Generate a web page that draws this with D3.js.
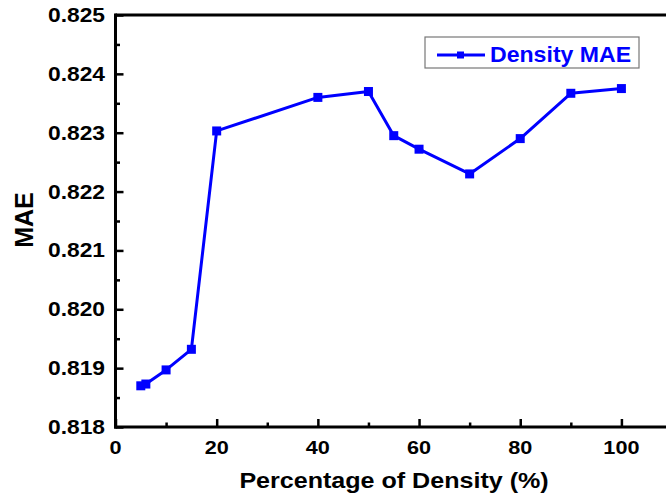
<!DOCTYPE html>
<html>
<head>
<meta charset="utf-8">
<script src="https://cdn.jsdelivr.net/npm/d3@7/dist/d3.min.js"></script>
<style>
  html, body { margin: 0; padding: 0; background: #fff; }
  svg { display: block; }
  text { font-family: "Liberation Sans", Arial, sans-serif; font-weight: bold; }
</style>
</head>
<body>
<svg id="chart" width="666" height="498"></svg>
<script>
// Density percentage vs. MAE
const densities = [5, 6, 10, 15, 20, 40, 50, 55, 60, 70, 80, 90, 100];
const maeValues = [0.81870, 0.81873, 0.81897, 0.81932, 0.82303, 0.82360, 0.82370,
                   0.82295, 0.82272, 0.82230, 0.82290, 0.82367, 0.82375];
const xTicks = [0, 20, 40, 60, 80, 100];
const xMinorTicks = [10, 30, 50, 70, 90];
const yTicks = [0.818, 0.819, 0.820, 0.821, 0.822, 0.823, 0.824, 0.825];
const yMinorTicks = [0.8185, 0.8195, 0.8205, 0.8215, 0.8225, 0.8235, 0.8245];
const seriesName = "Density MAE";
const xTitle = "Percentage of Density (%)";
const yTitle = "MAE";

const svg = d3.select("#chart");
const blue = "#0000ff";

const x = d3.scaleLinear().domain([0, 110]).range([115.5, 672]);
const y = d3.scaleLinear().domain([0.818, 0.825]).range([427, 15]);

// horizontally stretched text placed at an anchor point
function stretchedText(g, tx, ty, str, size, sx, anchor, fill) {
  return g.append("text")
    .attr("transform", `translate(${tx},${ty}) scale(${sx},1)`)
    .attr("text-anchor", anchor)
    .attr("font-size", size)
    .attr("fill", fill || "#000")
    .text(str);
}

// frame: top border
svg.append("line")
  .attr("x1", x(0)).attr("x2", x(110))
  .attr("y1", y(0.825)).attr("y2", y(0.825))
  .attr("stroke", "#000").attr("stroke-width", 3);

// x axis with inward ticks
const xAxis = svg.append("g").attr("transform", `translate(0,${y(0.818)})`);
xAxis.call(d3.axisTop(x).tickValues(xTicks).tickSize(8).tickFormat(""));
xAxis.append("g").call(d3.axisTop(x).tickValues(xMinorTicks).tickSize(4.5).tickFormat(""));
xAxis.selectAll(".domain").remove();
xAxis.selectAll("line").attr("stroke", "#000").attr("stroke-width", 2.5);
xAxis.append("line").attr("x1", x(0) - 1.5).attr("x2", x(110))
  .attr("stroke", "#000").attr("stroke-width", 3);

// y axis with inward ticks
const yAxis = svg.append("g").attr("transform", `translate(${x(0)},0)`);
yAxis.call(d3.axisRight(y).tickValues(yTicks).tickSize(8).tickFormat(""));
yAxis.append("g").call(d3.axisRight(y).tickValues(yMinorTicks).tickSize(4.5).tickFormat(""));
yAxis.selectAll(".domain").remove();
yAxis.selectAll("line").attr("stroke", "#000").attr("stroke-width", 2.5);
yAxis.append("line").attr("y1", y(0.825) - 1.5).attr("y2", y(0.818) + 1.5)
  .attr("stroke", "#000").attr("stroke-width", 3);

// tick labels
const labels = svg.append("g");
xTicks.forEach(v => stretchedText(labels, x(v), 454, d3.format("d")(v), 19, 1.14, "middle"));
yTicks.forEach(v => stretchedText(labels, 105, y(v) + 7, d3.format(".3f")(v), 20, 1.14, "end"));

// axis titles
stretchedText(svg, 394, 488, xTitle, 22, 1.14, "middle");
svg.append("text")
  .attr("transform", `translate(33,220) rotate(-90)`)
  .attr("text-anchor", "middle")
  .attr("font-size", 25)
  .text(yTitle);

// series line and markers
const line = d3.line().x((d, i) => x(densities[i])).y(d => y(d));
svg.append("path")
  .datum(maeValues)
  .attr("d", line)
  .attr("fill", "none")
  .attr("stroke", blue)
  .attr("stroke-width", 3)
  .attr("stroke-linejoin", "round");

svg.append("g").selectAll("rect")
  .data(maeValues)
  .join("rect")
  .attr("x", (d, i) => x(densities[i]) - 4.5)
  .attr("y", d => y(d) - 4.5)
  .attr("width", 9).attr("height", 9)
  .attr("fill", blue);

// legend
const legend = svg.append("g");
legend.append("rect")
  .attr("x", 425).attr("y", 37).attr("width", 214).attr("height", 31)
  .attr("fill", "#fff").attr("stroke", "#777").attr("stroke-width", 1.2);
legend.append("line")
  .attr("x1", 437).attr("x2", 485).attr("y1", 55).attr("y2", 55)
  .attr("stroke", blue).attr("stroke-width", 3);
legend.append("rect")
  .attr("x", 457).attr("y", 51.5).attr("width", 7).attr("height", 7)
  .attr("fill", blue);
stretchedText(legend, 490, 62, seriesName, 22, 1.05, "start", blue);
</script>
</body>
</html>
